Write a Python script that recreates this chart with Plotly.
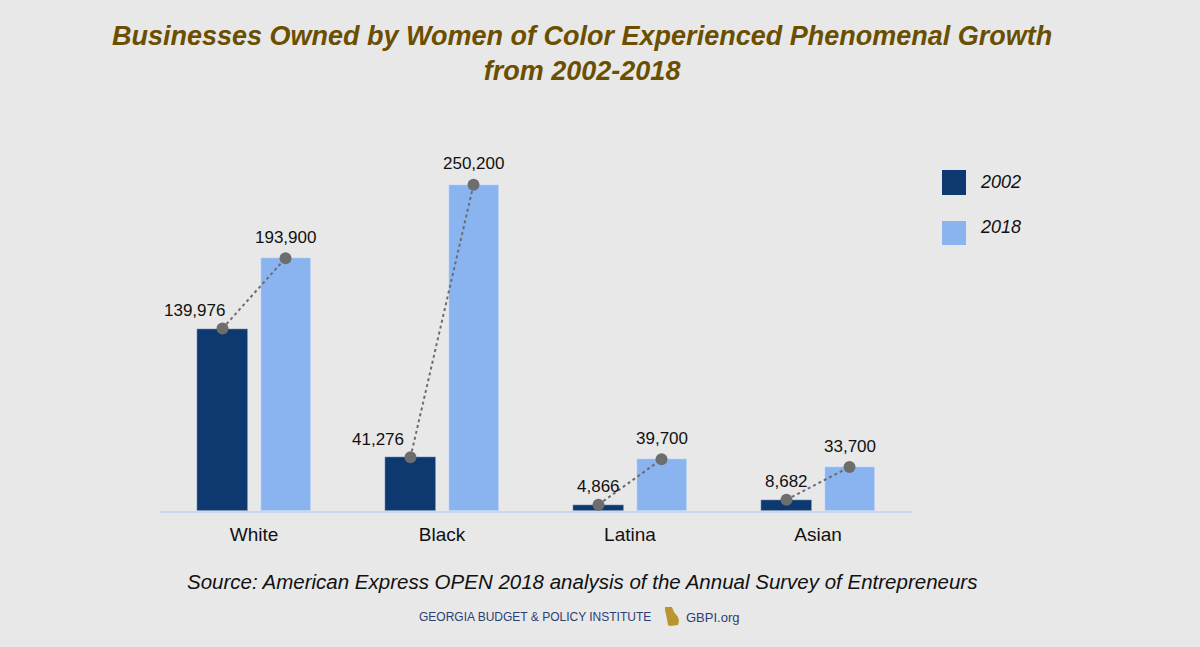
import plotly.graph_objects as go

categories = ["White", "Black", "Latina", "Asian"]
values_2002 = [139976, 41276, 4866, 8682]
values_2018 = [193900, 250200, 39700, 33700]
series_names = ["2002", "2018"]

C_DARK = "#0e3870"
C_LIGHT = "#8ab4f0"
C_DOT = "#6d6d6d"
BG = "#e8e8e8"
TITLE_C = "#6b4f00"
FONT = "Liberation Sans, Arial"

idx = list(range(len(categories)))
OFF = 0.1676
W = 0.266
x02 = [i - OFF for i in idx]
x18 = [i + OFF for i in idx]

fig = go.Figure()
fig.add_trace(go.Bar(x=x02, y=values_2002, width=W, marker_color=C_DARK,
                     name=series_names[0], showlegend=False, hoverinfo="y"))
fig.add_trace(go.Bar(x=x18, y=values_2018, width=W, marker_color=C_LIGHT,
                     name=series_names[1], showlegend=False, hoverinfo="y"))

# connecting dotted lines per category
for i in idx:
    fig.add_trace(go.Scatter(
        x=[x02[i], x18[i]], y=[values_2002[i], values_2018[i]],
        mode="lines+markers",
        line=dict(color=C_DOT, width=2, dash="dot"),
        marker=dict(color=C_DOT, size=12),
        showlegend=False, hoverinfo="skip"))

lab_font = dict(family=FONT, size=17, color="#111111")
# 2002 labels: White and Black shifted left to clear the line
shift02 = [-28, -32, 0, 0]
for i in idx:
    fig.add_annotation(x=x02[i], y=values_2002[i], text=f"{values_2002[i]:,}",
                       showarrow=False, xanchor="center", yanchor="middle",
                       xshift=shift02[i], yshift=18, font=lab_font)
    fig.add_annotation(x=x18[i], y=values_2018[i], text=f"{values_2018[i]:,}",
                       showarrow=False, xanchor="center", yanchor="middle",
                       xshift=0, yshift=21, font=lab_font)

fig.update_layout(
    width=1200, height=647,
    paper_bgcolor=BG, plot_bgcolor=BG,
    margin=dict(l=160, r=288, t=159, b=136),
    bargap=0, barmode="overlay",
    xaxis=dict(range=[-0.5, 3.5], tickvals=idx, ticktext=categories,
               showgrid=False, zeroline=False, showline=True,
               linecolor="#c5d9f1", linewidth=2, ticks="",
               ticklabelstandoff=5,
               tickfont=dict(family=FONT, size=19, color="#111111"),
               fixedrange=True),
    yaxis=dict(range=[0, 270000], showgrid=False, zeroline=False,
               showticklabels=False, showline=False, fixedrange=True),
)

PH = 352.0
PW = 752.0
def px(x):
    return (x - 160) / PW
def py(y):
    return (511 - y) / PH

# title
fig.add_annotation(xref="paper", yref="paper", x=px(582), y=py(53),
                   text="<b><i>Businesses Owned by Women of Color Experienced Phenomenal Growth<br>from 2002-2018</i></b>",
                   showarrow=False, xanchor="center", yanchor="middle", align="center",
                   font=dict(family=FONT, size=27, color=TITLE_C))

# legend (manual)
fig.add_shape(type="rect", xref="paper", yref="paper", x0=px(942), x1=px(966),
              y0=py(195), y1=py(170), fillcolor=C_DARK, line_width=0)
fig.add_shape(type="rect", xref="paper", yref="paper", x0=px(942), x1=px(966),
              y0=py(245), y1=py(221), fillcolor=C_LIGHT, line_width=0)
fig.add_annotation(xref="paper", yref="paper", x=px(978), y=py(182),
                   text="<i>" + series_names[0] + "</i>", showarrow=False,
                   xanchor="left", yanchor="middle",
                   font=dict(family=FONT, size=18, color="#111111"))
fig.add_annotation(xref="paper", yref="paper", x=px(978), y=py(227),
                   text="<i>" + series_names[1] + "</i>", showarrow=False,
                   xanchor="left", yanchor="middle",
                   font=dict(family=FONT, size=18, color="#111111"))

# source
fig.add_annotation(xref="paper", yref="paper", x=px(582), y=py(581),
                   text="<i>Source: American Express OPEN 2018 analysis of the Annual Survey of Entrepreneurs</i>",
                   showarrow=False, xanchor="center", yanchor="middle",
                   font=dict(family=FONT, size=20.5, color="#111111"))

# GBPI footer
fig.add_annotation(xref="paper", yref="paper", x=px(653), y=py(617),
                   text="GEORGIA BUDGET &amp; POLICY INSTITUTE", showarrow=False,
                   xanchor="right", yanchor="middle",
                   font=dict(family=FONT, size=12, color="#2b3f73"))
fig.add_annotation(xref="paper", yref="paper", x=px(684), y=py(617),
                   text="GBPI.org", showarrow=False, xanchor="left", yanchor="middle",
                   font=dict(family=FONT, size=13, color="#2b3f73"))
# Georgia silhouette (decorative logo)
gx, gy = 665, 607
pts = [(0, 0), (7, 0), (9, 5), (13, 10), (14, 14), (13, 18), (5, 19), (3, 18), (2, 12), (0, 3)]
path = "M " + " L ".join(f"{px(gx + a):.5f},{py(gy + b):.5f}" for a, b in pts) + " Z"
fig.add_shape(type="path", xref="paper", yref="paper", path=path,
              fillcolor="#b8952e", line_width=0)

fig.write_html("out.html",
               config={"displayModeBar": False},
               post_script="document.body.style.margin='0';document.body.style.padding='0';"
                           "document.body.style.overflow='hidden';"
                           "document.body.style.background='#e8e8e8';")
